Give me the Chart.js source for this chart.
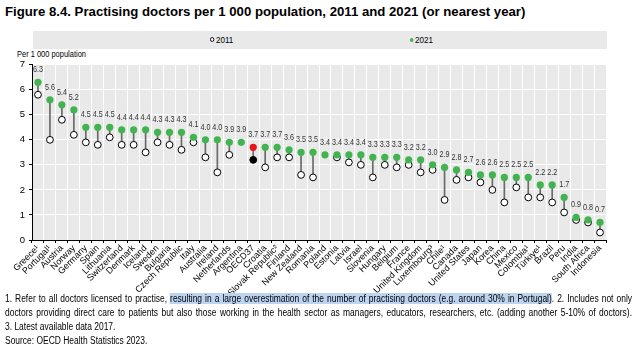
<!DOCTYPE html>
<html>
<head>
<meta charset="utf-8">
<script src="https://cdn.jsdelivr.net/npm/chart.js@4.4.1/dist/chart.umd.min.js"></script>
<style>
  body { margin: 0; width: 638px; height: 347px; background: #fff; position: relative; overflow: hidden;
    font-family: "Liberation Sans", Arial, sans-serif; color: #000; }
  #title { position: absolute; left: 5px; top: 4px; font-size: 13.2px; font-weight: bold; white-space: nowrap; }
  #legend { position: absolute; left: 33px; top: 31px; width: 574px; height: 18px; background: #e9e9e9; font-size: 9.5px; }
  #legend span { position: absolute; top: 3px; transform: scaleX(0.85); transform-origin: left; }
  .mk { display: inline-block; width: 4px; height: 4px; border-radius: 50%; margin-right: 2px; vertical-align: 1px; }
  #unit { position: absolute; left: 17px; top: 49px; font-size: 9px; white-space: nowrap;
    transform: scaleX(0.83); transform-origin: left; }
  #chart { position: absolute; left: 0; top: 55px; }
  .note { position: absolute; left: 5px; width: 742px; font-size: 10px; white-space: nowrap;
    transform: scaleX(0.845); transform-origin: left; }
  .just { text-align: justify; text-align-last: justify; white-space: normal; }
  .hl { background: #bcd4f0; }
</style>
</head>
<body>
<div id="title">Figure 8.4. Practising doctors per 1 000 population, 2011 and 2021 (or nearest year)</div>
<div id="legend">
  <span style="left:177px"><i class="mk" style="border:1px solid #000;width:3px;height:3px;background:#fff"></i>2011</span>
  <span style="left:377px"><i class="mk" style="background:#41b34f"></i>2021</span>
</div>
<div id="unit">Per 1 000 population</div>
<canvas id="chart" width="638" height="240"></canvas>
<div class="note just" style="top:293px">1. Refer to all doctors licensed to practise, <span class="hl">resulting in a large overestimation of the number of practising doctors (e.g. around 30% in Portugal)</span>. 2. Includes not only</div>
<div class="note just" style="top:307px">doctors providing direct care to patients but also those working in the health sector as managers, educators, researchers, etc. (adding another 5-10% of doctors).</div>
<div class="note" style="top:321px">3. Latest available data 2017.</div>
<div class="note" style="top:335px">Source: OECD Health Statistics 2023.</div>
<script>
const countries = ['Greece¹', 'Portugal¹', 'Austria', 'Norway', 'Germany', 'Spain', 'Lithuania', 'Switzerland', 'Denmark',
	'Iceland', 'Sweden', 'Bulgaria', 'Czech Republic', 'Italy', 'Australia', 'Ireland', 'Netherlands', 'Argentina', 'OECD37',
	'Croatia', 'Slovak Republic²', 'Finland', 'New Zealand', 'Romania', 'Poland', 'Estonia', 'Latvia', 'Israel', 'Slovenia',
	'Hungary', 'Belgium', 'France', 'United Kingdom', 'Luxembourg³', 'Chile¹', 'Canada', 'United States', 'Japan', 'Korea',
	'China', 'Mexico', 'Colombia¹', 'Türkiye¹', 'Brazil', 'Peru', 'India', 'South Africa', 'Indonesia'];

const values2021 = [6.3, 5.6, 5.4, 5.2, 4.5, 4.5, 4.5, 4.4, 4.4, 4.4, 4.3, 4.3, 4.3, 4.1, 4.0, 4.0, 3.9, 3.9, 3.7,
	3.7, 3.7, 3.6, 3.5, 3.5, 3.4, 3.4, 3.4, 3.4, 3.3, 3.3, 3.3, 3.2, 3.2, 3.0, 2.9, 2.8, 2.7, 2.6, 2.6,
	2.5, 2.5, 2.5, 2.2, 2.2, 1.7, 0.9, 0.8, 0.7];

const values2011 = [5.8, 4.0, 4.8, 4.2, 3.9, 3.8, 4.1, 3.8, 3.8, 3.5, 3.9, 3.8, 3.6, 3.9, 3.3, 2.7, 3.4, null, 3.2,
	2.9, 3.3, 3.3, 2.6, 2.5, null, 3.3, 3.1, 3.0, 2.5, 3.0, 2.9, 3.0, 2.7, 2.8, 1.6, 2.4, 2.5, 2.3, 2.0,
	1.5, 2.1, 1.7, 1.7, 1.5, 1.1, 0.8, 0.7, 0.3];

const yTicks = [0, 1, 2, 3, 4, 5, 6, 7];

const GREEN = '#41b34f';
const FONT = '"Liberation Sans", Arial, sans-serif';
const oecdIdx = countries.indexOf('OECD37');

// gap lines between the two years
const gaps = values2011.map((v, i) => v == null ? null : [v, values2021[i]]);

const plotBg = {
	id: 'plotBg',
	beforeDraw(chart) {
		const a = chart.chartArea;
		chart.ctx.save();
		chart.ctx.fillStyle = '#e9e9e9';
		chart.ctx.fillRect(a.left, a.top, a.right - a.left, a.bottom - a.top);
		chart.ctx.restore();
	}
};

// 2021 values above the dots, squeezed a bit like the narrow font of the original
const valueLabels = {
	id: 'valueLabels',
	afterDatasetsDraw(chart) {
		const ctx = chart.ctx;
		const meta = chart.getDatasetMeta(2);
		meta.data.forEach((pt, i) => {
			ctx.save();
			ctx.translate(pt.x, pt.y - 12.5);
			ctx.scale(0.8, 1);
			ctx.font = '9px ' + FONT;
			ctx.fillStyle = '#333';
			ctx.textAlign = 'center';
			ctx.textBaseline = 'middle';
			ctx.fillText(values2021[i].toFixed(1), 0, 0);
			ctx.restore();
		});
	}
};

new Chart(document.getElementById('chart'), {
	type: 'bar',
	data: {
		labels: countries,
		datasets: [{
			label: 'gap',
			data: gaps,
			backgroundColor: '#6a6a6a',
			barThickness: 1,
			order: 3
		}, {
			type: 'line',
			label: '2011',
			data: values2011,
			showLine: false,
			pointRadius: 3.4,
			pointBorderWidth: 1,
			pointBorderColor: '#000',
			pointBackgroundColor: countries.map((c, i) => i === oecdIdx ? '#000' : '#fff'),
			order: 2
		}, {
			type: 'line',
			label: '2021',
			data: values2021,
			showLine: false,
			pointRadius: 3.6,
			pointBorderWidth: 0,
			pointBackgroundColor: countries.map((c, i) => i === oecdIdx ? '#e8141c' : GREEN),
			order: 1
		}]
	},
	options: {
		responsive: false,
		animation: false,
		layout: { padding: { top: 7, right: 32, left: 0, bottom: 0 } },
		plugins: {
			legend: { display: false },
			tooltip: { enabled: false }
		},
		scales: {
			x: {
				offset: true,
				grid: { color: '#fff', lineWidth: 1, offset: true, tickColor: '#000', tickLength: 3 },
				border: { color: '#000', width: 1 },
				ticks: { autoSkip: false, maxRotation: 45, minRotation: 45, padding: 0,
					color: '#000', font: { family: FONT, size: 9 } },
				afterFit(s) { s.height = 55; }
			},
			y: {
				min: 0,
				max: 7,
				afterBuildTicks(s) { s.ticks = yTicks.map(v => ({ value: v })); },
				grid: { color: '#fff', lineWidth: 1, tickColor: '#000', tickLength: 3 },
				border: { color: '#000', width: 1 },
				ticks: { color: '#000', padding: 4, font: { family: FONT, size: 9.5 } },
				afterFit(s) { s.width = 32; }
			}
		}
	},
	plugins: [plotBg, valueLabels]
});
</script>
</body>
</html>
